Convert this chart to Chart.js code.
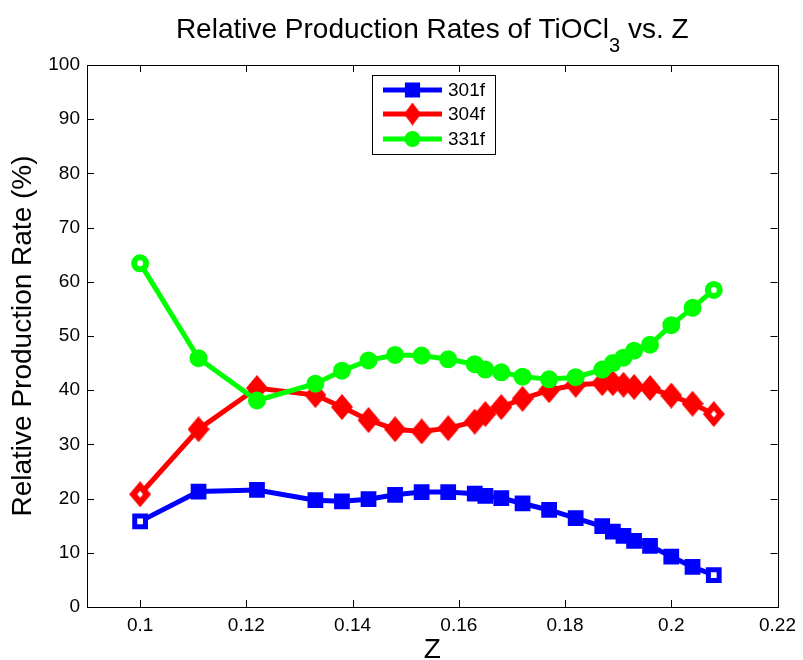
<!DOCTYPE html>
<html><head><meta charset="utf-8">
<script src="https://cdn.jsdelivr.net/npm/chart.js@4.4.0/dist/chart.umd.min.js"></script>
<style>html,body{margin:0;padding:0;background:#fff;}#wrap{width:803px;height:660px;position:relative;}</style>
</head><body><div id="wrap"><canvas id="c" width="803" height="660"></canvas></div>
<script>
// ---- data ----
const zValues = [0.1, 0.111, 0.122, 0.133, 0.138, 0.143, 0.148, 0.153, 0.158, 0.163, 0.165, 0.168, 0.172, 0.177, 0.182, 0.187, 0.189, 0.191, 0.193, 0.196, 0.2, 0.204, 0.208];
const series301f = [15.8, 21.3, 21.6, 19.7, 19.5, 19.9, 20.7, 21.2, 21.2, 20.9, 20.5, 20.1, 19.1, 17.9, 16.4, 14.9, 13.9, 13.1, 12.2, 11.3, 9.3, 7.4, 5.9];
const series304f = [20.8, 32.8, 40.4, 39.1, 36.9, 34.5, 32.8, 32.4, 33.0, 34.2, 35.6, 36.9, 38.4, 40.0, 41.0, 41.3, 41.3, 41.0, 40.6, 40.4, 39.0, 37.5, 35.6];
const series331f = [63.4, 45.9, 38.1, 41.2, 43.6, 45.5, 46.5, 46.4, 45.7, 44.8, 43.8, 43.3, 42.5, 42.0, 42.4, 43.8, 45.0, 46.0, 47.3, 48.4, 52.0, 55.2, 58.5];
const seriesLabels = ['301f', '304f', '331f'];
const xTickValues = [0.1, 0.12, 0.14, 0.16, 0.18, 0.2, 0.22];
const yTickValues = [0, 10, 20, 30, 40, 50, 60, 70, 80, 90, 100];
const titleMain = 'Relative Production Rates of TiOCl';
const titleSub = '3';
const titleTail = ' vs. Z';
const xAxisTitle = 'Z';
const yAxisTitle = 'Relative Production Rate (%)';

// ---- styles ----
const FONT = "'Liberation Sans', Arial, Helvetica, sans-serif";
const BLUE = '#0000ff', RED = '#ff0000', GREEN = '#00ff00';

function makeDiamond(w, h, color, hollow) {
  const c = document.createElement('canvas');
  c.width = w; c.height = h;
  const g = c.getContext('2d');
  g.fillStyle = color;
  g.beginPath();
  g.moveTo(w / 2, 0); g.lineTo(w, h / 2); g.lineTo(w / 2, h); g.lineTo(0, h / 2);
  g.closePath(); g.fill();
  if (hollow) {
    const iw = w * 0.26, ih = h * 0.26;
    g.fillStyle = '#ffffff';
    g.beginPath();
    g.moveTo(w / 2, h / 2 - ih / 2); g.lineTo(w / 2 + iw / 2, h / 2); g.lineTo(w / 2, h / 2 + ih / 2); g.lineTo(w / 2 - iw / 2, h / 2);
    g.closePath(); g.fill();
  }
  return c;
}
const diamondFilled = makeDiamond(22, 26, RED, false);
const diamondHollow = makeDiamond(22, 26, RED, true);
const diamondLegend = makeDiamond(17, 23, RED, false);

function pts(ys) { return zValues.map((x, i) => ({ x: x, y: ys[i] })); }
function ends(color) { return zValues.map((_, i) => (i === 0 || i === zValues.length - 1) ? '#ffffff' : color); }

const datasets = [
  { label: seriesLabels[0], data: pts(series301f), borderColor: BLUE, backgroundColor: BLUE,
    borderWidth: 5, pointStyle: 'rect', pointRadius: 7.6, pointBorderWidth: 5,
    pointBorderColor: BLUE, pointBackgroundColor: ends(BLUE), order: 2, legendStyle: 'rect', legendRadius: 7.2 },
  { label: seriesLabels[1], data: pts(series304f), borderColor: RED, backgroundColor: RED,
    borderWidth: 5, pointStyle: zValues.map((_, i) => (i === 0 || i === zValues.length - 1) ? diamondHollow : diamondFilled),
    pointRadius: 11, pointBorderWidth: 0, order: 1, legendStyle: diamondLegend, legendRadius: 10 },
  { label: seriesLabels[2], data: pts(series331f), borderColor: GREEN, backgroundColor: GREEN,
    borderWidth: 5, pointStyle: 'circle', pointRadius: 6, pointBorderWidth: 6,
    pointBorderColor: GREEN, pointBackgroundColor: ends(GREEN), order: 0, legendStyle: 'circle', legendRadius: 5 }
];

const framePlugin = {
  id: 'frame',
  afterDraw(chart) {
    const ctx = chart.ctx, a = chart.chartArea;
    const xs = chart.scales.x, ys = chart.scales.y;
    ctx.save();
    ctx.strokeStyle = '#000'; ctx.lineWidth = 1;
    ctx.strokeRect(Math.round(a.left) + 0.5, Math.round(a.top) + 0.5, Math.round(a.right - a.left), Math.round(a.bottom - a.top));
    const tl = 7;
    ctx.beginPath();
    xTickValues.forEach(v => {
      const px = Math.round(xs.getPixelForValue(v)) + 0.5;
      ctx.moveTo(px, a.bottom); ctx.lineTo(px, a.bottom - tl);
      ctx.moveTo(px, a.top); ctx.lineTo(px, a.top + tl);
    });
    yTickValues.forEach(v => {
      const py = Math.round(ys.getPixelForValue(v)) + 0.5;
      ctx.moveTo(a.left, py); ctx.lineTo(a.left + tl, py);
      ctx.moveTo(a.right, py); ctx.lineTo(a.right - tl, py);
    });
    ctx.stroke();

    // title with subscript
    ctx.fillStyle = '#000';
    ctx.textBaseline = 'alphabetic';
    const fMain = '28px ' + FONT, fSub = '20px ' + FONT;
    ctx.font = fMain; const w1 = ctx.measureText(titleMain).width; const w3 = ctx.measureText(titleTail).width;
    ctx.font = fSub; const w2 = ctx.measureText(titleSub).width;
    const total = w1 + w2 + w3;
    let tx = (a.left + a.right) / 2 - total / 2;
    const base = 38;
    ctx.textAlign = 'left';
    ctx.font = fMain; ctx.fillText(titleMain, tx, base); tx += w1;
    ctx.font = fSub; ctx.fillText(titleSub, tx, base + 14); tx += w2;
    ctx.font = fMain; ctx.fillText(titleTail, tx, base);

    // legend
    const bx = 372.5, by = 75.5, bw = 123, bh = 79;
    ctx.fillStyle = '#fff'; ctx.fillRect(bx, by, bw, bh);
    ctx.strokeStyle = '#000'; ctx.lineWidth = 1; ctx.strokeRect(bx, by, bw, bh);
    const rowsY = [90, 114, 139];
    chart.data.datasets.forEach((ds, i) => {
      const y = rowsY[i];
      ctx.strokeStyle = ds.borderColor; ctx.lineWidth = 5; ctx.lineCap = 'butt';
      ctx.beginPath(); ctx.moveTo(383, y); ctx.lineTo(442, y); ctx.stroke();
      ctx.fillStyle = ds.borderColor; ctx.strokeStyle = ds.borderColor; ctx.lineWidth = ds.pointBorderWidth || 0;
      Chart.helpers.drawPoint(ctx, { pointStyle: ds.legendStyle, radius: ds.legendRadius, borderWidth: ds.pointBorderWidth, rotation: 0 }, 412.5, y);
      if (typeof ds.legendStyle === 'string') { ctx.fill(); }
      ctx.fillStyle = '#000'; ctx.font = '19px ' + FONT; ctx.textAlign = 'left'; ctx.textBaseline = 'middle';
      ctx.fillText(ds.label, 448, y + 1);
    });
    ctx.restore();
  }
};

new Chart(document.getElementById('c'), {
  type: 'line',
  data: { datasets: datasets },
  options: {
    responsive: false, animation: false,
    layout: { padding: { top: 65, right: 23, left: 0, bottom: 0 } },
    plugins: { legend: { display: false }, title: { display: false }, tooltip: { enabled: false } },
    elements: { line: { tension: 0 } },
    scales: {
      x: {
        type: 'linear', min: 0.09, max: 0.22,
        afterBuildTicks(s) { s.ticks = xTickValues.map(v => ({ value: v })); },
        afterFit(s) { s.height = 53; },
        grid: { display: false, drawTicks: false },
        border: { display: false },
        ticks: { padding: 7, color: '#000', font: { family: FONT, size: 19 }, maxRotation: 0, autoSkip: false,
          callback: v => String(+(+v).toFixed(2)) },
        title: { display: true, text: xAxisTitle, color: '#000', font: { family: FONT, size: 28, lineHeight: 0.72 }, padding: { top: 0, bottom: 0 } }
      },
      y: {
        min: 0, max: 100,
        afterBuildTicks(s) { s.ticks = yTickValues.map(v => ({ value: v })); },
        afterFit(s) { s.width = 87; },
        grid: { display: false, drawTicks: false },
        border: { display: false },
        ticks: { padding: 7, color: '#000', font: { family: FONT, size: 19 }, autoSkip: false },
        title: { display: true, text: yAxisTitle, color: '#000', font: { family: FONT, size: 28 }, padding: { top: 6, bottom: 0 } }
      }
    }
  },
  plugins: [framePlugin]
});
</script></body></html>
